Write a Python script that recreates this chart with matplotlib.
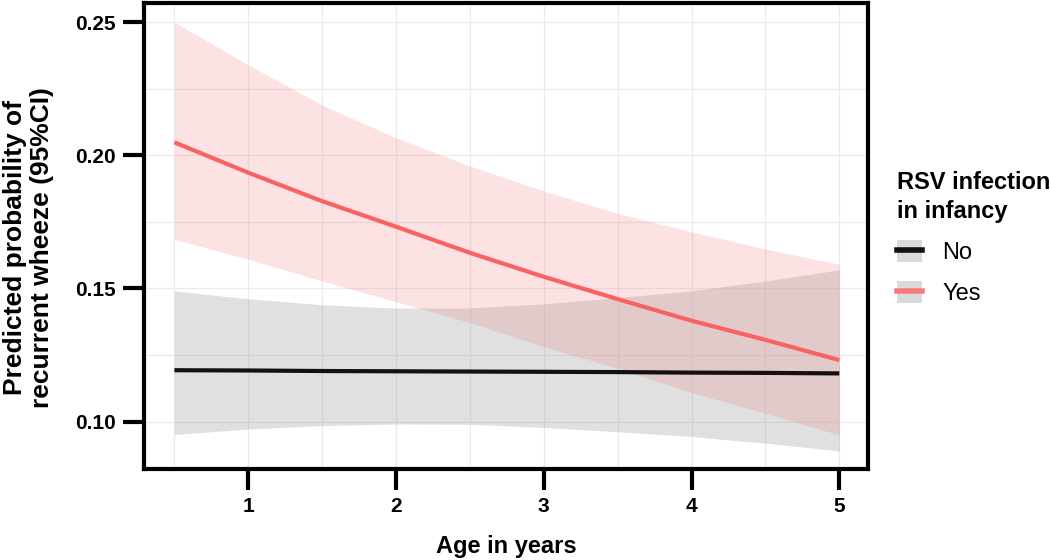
import matplotlib
matplotlib.use("Agg")
import matplotlib.pyplot as plt
from matplotlib.lines import Line2D
from matplotlib.patches import Patch
from matplotlib.ticker import MultipleLocator

plt.rcParams['font.family'] = ['Liberation Sans', 'DejaVu Sans']

age = [0.5, 1.0, 1.5, 2.0, 2.5, 3.0, 3.5, 4.0, 4.5, 5.0]

no_fit = [0.1193, 0.1192, 0.1190, 0.1189, 0.1188, 0.1187, 0.1186, 0.1184, 0.1183, 0.1181]
no_upper = [0.1491, 0.1461, 0.1439, 0.1426, 0.1427, 0.1442, 0.1466, 0.1491, 0.1528, 0.1570]
no_lower = [0.0952, 0.0972, 0.0985, 0.0991, 0.0990, 0.0978, 0.0962, 0.0944, 0.0919, 0.0890]

yes_fit = [0.2049, 0.1935, 0.1828, 0.1732, 0.1634, 0.1544, 0.1460, 0.1379, 0.1307, 0.1231]
yes_upper = [0.2500, 0.2340, 0.2189, 0.2066, 0.1960, 0.1866, 0.1782, 0.1713, 0.1648, 0.1591]
yes_lower = [0.1685, 0.1610, 0.1528, 0.1450, 0.1372, 0.1281, 0.1200, 0.1109, 0.1031, 0.0950]

x_ticks = [1, 2, 3, 4, 5]
y_ticks = [0.10, 0.15, 0.20, 0.25]
y_tick_labels = ["0.10", "0.15", "0.20", "0.25"]

legend_title = ["RSV infection", "in infancy"]
legend_labels = ["No", "Yes"]

fig = plt.figure(figsize=(10.5, 5.6), dpi=100)
ax = fig.add_axes([0.137, 0.1625, 0.6895, 0.833])

ax.fill_between(age, no_lower, no_upper, color='#999999', alpha=0.3, linewidth=0, zorder=2)
ax.fill_between(age, yes_lower, yes_upper, color='#F27E80', alpha=0.22, linewidth=0, zorder=3)
ax.plot(age, no_fit, color='#111111', linewidth=3, solid_capstyle='butt', zorder=4)
ax.plot(age, yes_fit, color='#FA6262', linewidth=3, solid_capstyle='butt', zorder=5)

ax.set_xlim(0.2934, 5.193)
ax.set_ylim(0.0822, 0.2574)
ax.set_xticks(x_ticks)
ax.set_yticks(y_ticks)
ax.set_yticklabels(y_tick_labels)
ax.xaxis.set_minor_locator(MultipleLocator(0.5))
ax.yaxis.set_minor_locator(MultipleLocator(0.025))
ax.grid(which='both', color='#EBEBEB', linewidth=0.9, zorder=0)
ax.set_axisbelow(True)
ax.tick_params(which='minor', length=0)
ax.tick_params(which='major', direction='out', length=15, width=3, color='black',
               labelsize=15, pad=5)
for lbl in ax.get_xticklabels() + ax.get_yticklabels():
    lbl.set_fontweight('bold')
for sp in ax.spines.values():
    sp.set_linewidth(3)
    sp.set_color('black')

ax.set_xlabel("Age in years", fontsize=17, fontweight='bold', labelpad=14)
ax.set_ylabel("Predicted probability of\nrecurrent wheeze (95%CI)", fontsize=19,
              fontweight='bold', labelpad=12, linespacing=1.2)
ax.yaxis.set_label_coords(-0.1235, 0.474)

# legend title as two text lines
fig.text(897 / 1050, 1 - 189 / 560, legend_title[0], fontsize=17, fontweight='bold',
         ha='left', va='baseline')
fig.text(897 / 1050, 1 - 218 / 560, legend_title[1], fontsize=17, fontweight='bold',
         ha='left', va='baseline')

handles = [
    (Patch(facecolor='#DADADA', edgecolor='none'), Line2D([], [], color='#111111', linewidth=4)),
    (Patch(facecolor='#DADADA', edgecolor='none'), Line2D([], [], color='#F77B7B', linewidth=4)),
]
leg = fig.legend(handles, legend_labels,
                 loc='upper left', bbox_to_anchor=(897 / 1050, 1 - 240 / 560), frameon=False,
                 fontsize=17, handlelength=1.06, handleheight=1.06,
                 handletextpad=0.85, labelspacing=0.72, borderaxespad=0, borderpad=0)

fig.savefig("out.png", dpi=100)
